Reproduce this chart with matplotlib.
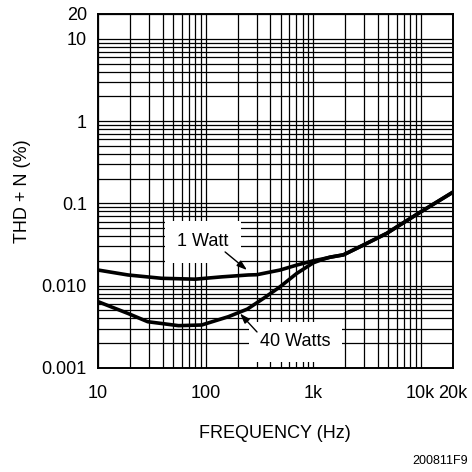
import matplotlib
matplotlib.use("Agg")
import matplotlib.pyplot as plt
from matplotlib.ticker import LogLocator, FixedLocator, FixedFormatter, NullFormatter
import numpy as np

plt.rcParams['font.family'] = ['Liberation Sans', 'DejaVu Sans']

# THD+N vs frequency
freq_1w = [10, 19, 39, 80, 141, 250, 300, 493, 705, 1006, 1239, 1439, 1914, 2938, 4850, 6460, 9900, 20000]
thd_1w = [0.0155, 0.0135, 0.0123, 0.0120, 0.0128, 0.0135, 0.0136, 0.0155, 0.0178, 0.0201,
          0.0212, 0.0222, 0.0237, 0.0312, 0.0433, 0.0550, 0.078, 0.137]
freq_40w = [10, 19, 29, 56, 92, 163, 245, 345, 493, 705, 1006, 1239, 1439, 1914, 2938, 4850, 6460, 9900, 20000]
thd_40w = [0.0064, 0.0046, 0.00365, 0.00327, 0.00333, 0.0042, 0.0052, 0.0070, 0.0097, 0.0141,
           0.0190, 0.0210, 0.0222, 0.0237, 0.0312, 0.0433, 0.0550, 0.078, 0.137]

x_ticks = [10, 100, 1000, 10000, 20000]
x_labels = ["10", "100", "1k", "10k", "20k"]
y_ticks = [0.001, 0.01, 0.1, 1, 10, 20]
y_labels = ["0.001", "0.010", "0.1", "1", "10", "20"]

fig = plt.figure(figsize=(4.72, 4.72), dpi=100)
ax = fig.add_axes([98 / 472, 104 / 472, 355 / 472, 354 / 472])
ax.set_xscale("log")
ax.set_yscale("log")
ax.set_xlim(10, 20000)
ax.set_ylim(0.001, 20)

ax.xaxis.set_major_locator(FixedLocator(x_ticks))
ax.xaxis.set_major_formatter(FixedFormatter(x_labels))
ax.yaxis.set_major_locator(FixedLocator(y_ticks))
ax.yaxis.set_major_formatter(FixedFormatter(y_labels))
ax.xaxis.set_minor_locator(LogLocator(base=10, subs=np.arange(1, 10), numticks=20))
ax.yaxis.set_minor_locator(LogLocator(base=10, subs=np.arange(1, 10), numticks=20))
ax.xaxis.set_minor_formatter(NullFormatter())
ax.yaxis.set_minor_formatter(NullFormatter())
ax.tick_params(which="both", length=0, labelsize=13, colors="black")
ax.tick_params(axis="x", pad=12)
ax.tick_params(axis="y", pad=8)
ax.grid(which="both", color="black", lw=0.9)
ax.set_axisbelow(True)
for s in ax.spines.values():
    s.set_linewidth(1.4)
    s.set_zorder(5)

ax.plot(freq_1w, thd_1w, color="black", lw=2.6, zorder=3, solid_joinstyle="round")
ax.plot(freq_40w, thd_40w, color="black", lw=2.6, zorder=3, solid_joinstyle="round")

ax.text(95, 0.034, "1 Watt", fontsize=13, ha="center", va="center", zorder=2,
        bbox=dict(facecolor="white", edgecolor="none", pad=9))
ax.text(681, 0.00207, "40 Watts", fontsize=13, ha="center", va="center", zorder=2,
        bbox=dict(facecolor="white", edgecolor="none", pad=8))
arrow = dict(arrowstyle="-|>,head_length=0.6,head_width=0.2", color="black", lw=1.0,
             shrinkA=0, shrinkB=0)
ax.annotate("", xy=(243, 0.0155), xytext=(152, 0.0257), arrowprops=arrow, zorder=4)
ax.annotate("", xy=(209, 0.0046), xytext=(301, 0.00274), arrowprops=arrow, zorder=4)

fig.text(23 / 472, 1 - 191 / 472, "THD + N (%)", rotation=90, fontsize=13,
         ha="center", va="center")
fig.text(275 / 472, 1 - 434 / 472, "FREQUENCY (Hz)", fontsize=13, ha="center", va="center")
fig.text(468 / 472, 1 - 461 / 472, "200811F9", fontsize=9, ha="right", va="center")

fig.savefig("out.png", dpi=100)
